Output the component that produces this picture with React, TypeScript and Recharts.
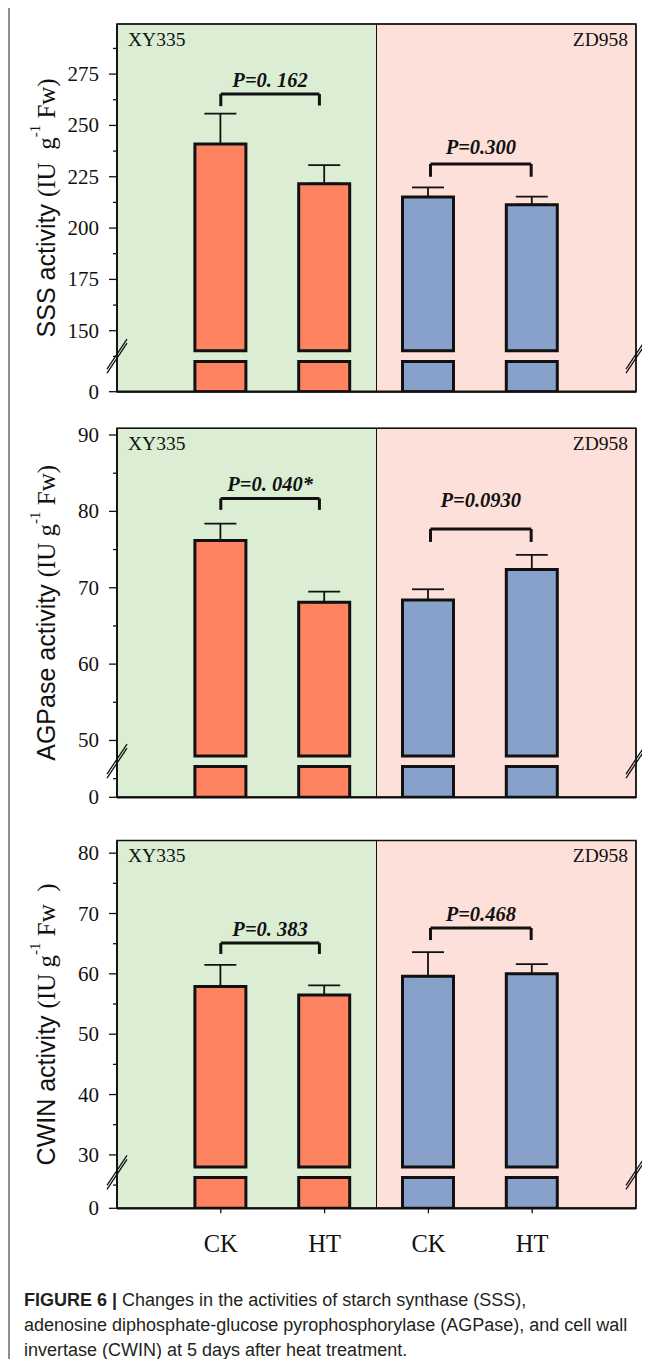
import React from 'react';
import {
  ComposedChart,
  Bar,
  Cell,
  XAxis,
  YAxis,
  ReferenceArea,
  ReferenceLine,
  ReferenceDot,
  ErrorBar,
} from 'recharts';

// ---------- shared categories ----------
const categories = ['CK', 'HT', 'CK', 'HT'];
const positions = [1, 2, 3, 4];
const cultivarOfBar = ['XY335', 'XY335', 'ZD958', 'ZD958'];
const cultivars = ['XY335', 'ZD958'];

// ---------- SSS ----------
const sssMean = [240.9, 221.6, 215.1, 211.4];
const sssErr = [14.8, 9.1, 4.7, 3.9];
const sssMajorTicks = [150, 175, 200, 225, 250, 275];
const sssMinorTicks = [137.5, 162.5, 187.5, 212.5, 237.5, 262.5, 287.5];
const sssAxisBreak = { zero: 120.3, lowTop: 135.0, upBottom: 140.2, mid: 137.6, max: 299.4 };
const sssBrackets = [
  { x1: 1.0, x2: 1.95, y: 265.3, leg1: 259.4, leg2: 259.7, text: 'P=0. 162', textY: 272 },
  { x1: 3.02, x2: 3.99, y: 231.2, leg1: 225.0, leg2: 225.0, text: 'P=0.300', textY: 239.3 },
];

// ---------- AGPase ----------
const agpMean = [76.2, 68.1, 68.4, 72.4];
const agpErr = [2.2, 1.4, 1.4, 1.9];
const agpMajorTicks = [50, 60, 70, 80, 90];
const agpMinorTicks = [45, 55, 65, 75, 85];
const agpAxisBreak = { zero: 42.56, lowTop: 46.6, upBottom: 47.97, mid: 47.3, max: 90.88 };
const agpBrackets = [
  { x1: 1.0, x2: 1.95, y: 81.7, leg1: 80.2, leg2: 80.2, text: 'P=0. 040*', textY: 83.6 },
  { x1: 3.02, x2: 3.99, y: 77.7, leg1: 76.0, leg2: 76.0, text: 'P=0.0930', textY: 81.5 },
];

// ---------- CWIN ----------
const cwinMean = [57.9, 56.5, 59.6, 60.0];
const cwinErr = [3.6, 1.6, 4.0, 1.6];
const cwinMajorTicks = [30, 40, 50, 60, 70, 80];
const cwinMinorTicks = [25, 35, 45, 55, 65, 75];
const cwinAxisBreak = { zero: 21.15, lowTop: 26.25, upBottom: 28.0, mid: 27.1, max: 82.1 };
const cwinBrackets = [
  { x1: 1.0, x2: 1.95, y: 65.1, leg1: 63.3, leg2: 63.3, text: 'P=0. 383', textY: 67.5 },
  { x1: 3.02, x2: 3.99, y: 67.6, leg1: 65.6, leg2: 65.6, text: 'P=0.468', textY: 69.9 },
];

// ---------- styles ----------
const SERIF = "'Liberation Serif','Times New Roman',Times,serif";
const SANS = "'Liberation Sans',Arial,Helvetica,sans-serif";
const INK = '#111111';
const barColors: Record<string, string> = { XY335: '#fe8461', ZD958: '#87a1cb' };
const bgColors: Record<string, string> = { XY335: '#dbeed3', ZD958: '#fde0d9' };

type Bracket = { x1: number; x2: number; y: number; leg1: number; leg2: number; text: string; textY: number };
type AxisBreak = { zero: number; lowTop: number; upBottom: number; mid: number; max: number };

type PanelProps = {
  top: number;
  height: number;
  marginTop: number;
  marginBottom: number;
  xAxisHeight: number;
  showX: boolean;
  means: number[];
  errs: number[];
  majors: number[];
  minors: number[];
  brk: AxisBreak;
  brackets: Bracket[];
  labelMain: string;
  labelUnit: string;
  labelSup: string;
  labelTail: string;
};

function makeYTick(majors: number[], zero: number) {
  return (props: any) => {
    const { x, y, payload } = props;
    const v = payload.value;
    const isZero = Math.abs(v - zero) < 1e-6;
    const isMajor = isZero || majors.indexOf(v) >= 0;
    return (
      <g>
        <line x1={x - (isMajor ? 8 : 4)} x2={x} y1={y} y2={y} stroke={INK} strokeWidth={1.3} />
        {isMajor && (
          <text
            x={x - 18}
            y={y}
            textAnchor="end"
            dominantBaseline="central"
            fontFamily={SERIF}
            fontSize={21}
            fill={INK}
          >
            {isZero ? '0' : String(v)}
          </text>
        )}
      </g>
    );
  };
}

const XTick = (props: any) => {
  const { x, y, payload } = props;
  const idx = positions.indexOf(payload.value);
  return (
    <g>
      <line x1={x} x2={x} y1={y} y2={y + 5} stroke={INK} strokeWidth={1.3} />
      <text
        x={x}
        y={y + 35}
        textAnchor="middle"
        dominantBaseline="central"
        fontFamily={SERIF}
        fontSize={24.5}
        fill={INK}
      >
        {categories[idx]}
      </text>
    </g>
  );
};

const breakMark = (p: any) => {
  const { cx, cy } = p;
  return (
    <g>
      <line x1={cx - 10} y1={cy + 13} x2={cx + 10} y2={cy - 17} stroke={INK} strokeWidth={1.3} />
      <line x1={cx - 10} y1={cy + 17} x2={cx + 10} y2={cy - 13} stroke={INK} strokeWidth={1.3} />
    </g>
  );
};

function Panel(props: PanelProps) {
  const { brk } = props;
  const rows = positions.map((p, i) => ({
    pos: p,
    cat: categories[i],
    lower: [brk.zero, brk.lowTop],
    upper: [brk.upBottom, props.means[i]],
    err: [0, props.errs[i]],
  }));
  const yTicks = [brk.zero, ...props.minors, ...props.majors].sort((a, b) => a - b);
  const YTick = makeYTick(props.majors, brk.zero);

  const yLabel = (lp: any) => {
    const vb = lp.viewBox || { x: 37, y: props.marginTop, width: 80, height: 368 };
    const cx = vb.x + 9;
    const cy = vb.y + vb.height / 2;
    return (
      <text
        x={cx}
        y={cy}
        transform={`rotate(-90, ${cx}, ${cy})`}
        textAnchor="middle"
        dominantBaseline="central"
        fill={INK}
        fontSize={25}
        style={{ whiteSpace: 'pre' }}
      >
        <tspan fontFamily={SANS}>{props.labelMain}</tspan>
        <tspan fontFamily={SERIF}>{props.labelUnit}</tspan>
        <tspan fontFamily={SERIF} fontSize={15} dy={-11}>
          {props.labelSup}
        </tspan>
        <tspan fontFamily={SERIF} dy={11}>
          {props.labelTail}
        </tspan>
      </text>
    );
  };

  return (
    <div style={{ position: 'absolute', left: -8, top: props.top - 6, width: 650, height: props.height }}>
      <ComposedChart
        width={650}
        height={props.height}
        data={rows}
        margin={{ top: props.marginTop, right: 14, bottom: props.marginBottom, left: 37 }}
      >
        <ReferenceArea
          xAxisId="main"
          x1={0}
          x2={2.5}
          y1={brk.zero}
          y2={brk.max}
          fill={bgColors[cultivars[0]]}
          fillOpacity={1}
          stroke={INK}
          strokeWidth={1}
        />
        <ReferenceArea
          xAxisId="main"
          x1={2.5}
          x2={5}
          y1={brk.zero}
          y2={brk.max}
          fill={bgColors[cultivars[1]]}
          fillOpacity={1}
          stroke={INK}
          strokeWidth={1}
        />
        <ReferenceArea
          xAxisId="main"
          x1={0}
          x2={5}
          y1={brk.zero}
          y2={brk.max}
          fill="none"
          fillOpacity={0}
          stroke={INK}
          strokeWidth={1.6}
        />
        <XAxis
          xAxisId="main"
          type="number"
          dataKey="pos"
          domain={[0, 5]}
          ticks={positions}
          allowDataOverflow
          height={props.xAxisHeight}
          axisLine={{ stroke: INK, strokeWidth: 2.2 }}
          tickLine={false}
          tickSize={0}
          tickMargin={0}
          tick={props.showX ? XTick : false}
          interval={0}
        />
        <XAxis xAxisId="seg" type="number" dataKey="pos" domain={[0, 5]} allowDataOverflow hide />
        <YAxis
          type="number"
          domain={[brk.zero, brk.max]}
          allowDataOverflow
          ticks={yTicks}
          interval={0}
          width={80}
          axisLine={{ stroke: INK, strokeWidth: 1.6 }}
          tickLine={false}
          tickSize={0}
          tickMargin={0}
          tick={YTick}
          label={{ content: yLabel, position: 'center' }}
        />
        <Bar
          xAxisId="seg"
          dataKey="lower"
          barSize={51}
          stroke={INK}
          strokeWidth={3}
          isAnimationActive={false}
        >
          {rows.map((r, i) => (
            <Cell key={`l${i}`} fill={barColors[cultivarOfBar[i]]} />
          ))}
        </Bar>
        <Bar
          xAxisId="main"
          dataKey="upper"
          barSize={51}
          stroke={INK}
          strokeWidth={3}
          isAnimationActive={false}
        >
          {rows.map((r, i) => (
            <Cell key={`u${i}`} fill={barColors[cultivarOfBar[i]]} />
          ))}
          <ErrorBar dataKey="err" width={16} stroke={INK} strokeWidth={1.8} direction="y" isAnimationActive={false} />
        </Bar>
        {props.brackets.map((b, i) => (
          <ReferenceLine
            key={`bh${i}`}
            xAxisId="main"
            segment={[
              { x: b.x1, y: b.y },
              { x: b.x2, y: b.y },
            ]}
            stroke={INK}
            strokeWidth={3}
            ifOverflow="visible"
          />
        ))}
        {props.brackets.map((b, i) => (
          <ReferenceLine
            key={`bl${i}`}
            xAxisId="main"
            segment={[
              { x: b.x1, y: b.y },
              { x: b.x1, y: b.leg1 },
            ]}
            stroke={INK}
            strokeWidth={3}
            ifOverflow="visible"
          />
        ))}
        {props.brackets.map((b, i) => (
          <ReferenceLine
            key={`br${i}`}
            xAxisId="main"
            segment={[
              { x: b.x2, y: b.y },
              { x: b.x2, y: b.leg2 },
            ]}
            stroke={INK}
            strokeWidth={3}
            ifOverflow="visible"
          />
        ))}
        {props.brackets.map((b, i) => (
          <ReferenceDot
            key={`bt${i}`}
            xAxisId="main"
            x={(b.x1 + b.x2) / 2}
            y={b.textY}
            r={0}
            ifOverflow="visible"
            shape={(p: any) => (
              <text
                x={p.cx}
                y={p.cy}
                textAnchor="middle"
                dominantBaseline="central"
                fontFamily={SERIF}
                fontWeight="bold"
                fontStyle="italic"
                fontSize={20.5}
                fill={INK}
                style={{ whiteSpace: 'pre' }}
              >
                {b.text}
              </text>
            )}
          />
        ))}
        <ReferenceDot
          xAxisId="main"
          x={0}
          y={brk.max}
          r={0}
          ifOverflow="visible"
          shape={(p: any) => (
            <text x={p.cx + 11} y={p.cy + 15} dominantBaseline="central" fontFamily={SERIF} fontSize={19.5} fill={INK}>
              {cultivars[0]}
            </text>
          )}
        />
        <ReferenceDot
          xAxisId="main"
          x={5}
          y={brk.max}
          r={0}
          ifOverflow="visible"
          shape={(p: any) => (
            <text
              x={p.cx - 8}
              y={p.cy + 15}
              textAnchor="end"
              dominantBaseline="central"
              fontFamily={SERIF}
              fontSize={19.5}
              fill={INK}
            >
              {cultivars[1]}
            </text>
          )}
        />
        <ReferenceDot xAxisId="main" x={0} y={brk.mid} r={0} ifOverflow="visible" shape={breakMark} />
        <ReferenceDot xAxisId="main" x={5} y={brk.mid} r={0} ifOverflow="visible" shape={breakMark} />
      </ComposedChart>
    </div>
  );
}

export default function App() {
  return (
    <div
      style={{
        position: 'relative',
        width: 642,
        height: 1353,
        marginTop: -2,
        overflow: 'hidden',
        background: '#ffffff',
      }}
    >
      <div
        style={{
          position: 'absolute',
          left: 0,
          top: 0,
          width: 700,
          height: 1400,
          borderTop: '2px solid #8f8f8f',
          borderLeft: '2px solid #8f8f8f',
          boxSizing: 'border-box',
        }}
      />
      <Panel
        top={0}
        height={410}
        marginTop={24}
        marginBottom={8.3}
        xAxisHeight={10}
        showX={false}
        means={sssMean}
        errs={sssErr}
        majors={sssMajorTicks}
        minors={sssMinorTicks}
        brk={sssAxisBreak}
        brackets={sssBrackets}
        labelMain="SSS activity "
        labelUnit="(IU  g"
        labelSup="-1"
        labelTail=" Fw)"
      />
      <Panel
        top={410}
        height={410}
        marginTop={18.3}
        marginBottom={12.7}
        xAxisHeight={10}
        showX={false}
        means={agpMean}
        errs={agpErr}
        majors={agpMajorTicks}
        minors={agpMinorTicks}
        brk={agpAxisBreak}
        brackets={agpBrackets}
        labelMain="AGPase activity "
        labelUnit="(IU g"
        labelSup="-1"
        labelTail=" Fw)"
      />
      <Panel
        top={820}
        height={460}
        marginTop={20.5}
        marginBottom={21.7}
        xAxisHeight={50}
        showX={true}
        means={cwinMean}
        errs={cwinErr}
        majors={cwinMajorTicks}
        minors={cwinMinorTicks}
        brk={cwinAxisBreak}
        brackets={cwinBrackets}
        labelMain="CWIN activity "
        labelUnit="(IU g"
        labelSup="-1"
        labelTail=" Fw  )"
      />
      <div
        style={{
          position: 'absolute',
          left: 16,
          top: 1281.5,
          fontFamily: SANS,
          fontSize: 18,
          lineHeight: '25px',
          color: '#231f20',
          whiteSpace: 'nowrap',
        }}
      >
        <div>
          <b>FIGURE 6 | </b>Changes in the activities of starch synthase (SSS),
        </div>
        <div>adenosine diphosphate-glucose pyrophosphorylase (AGPase), and cell wall</div>
        <div>invertase (CWIN) at 5 days after heat treatment.</div>
      </div>
    </div>
  );
}
